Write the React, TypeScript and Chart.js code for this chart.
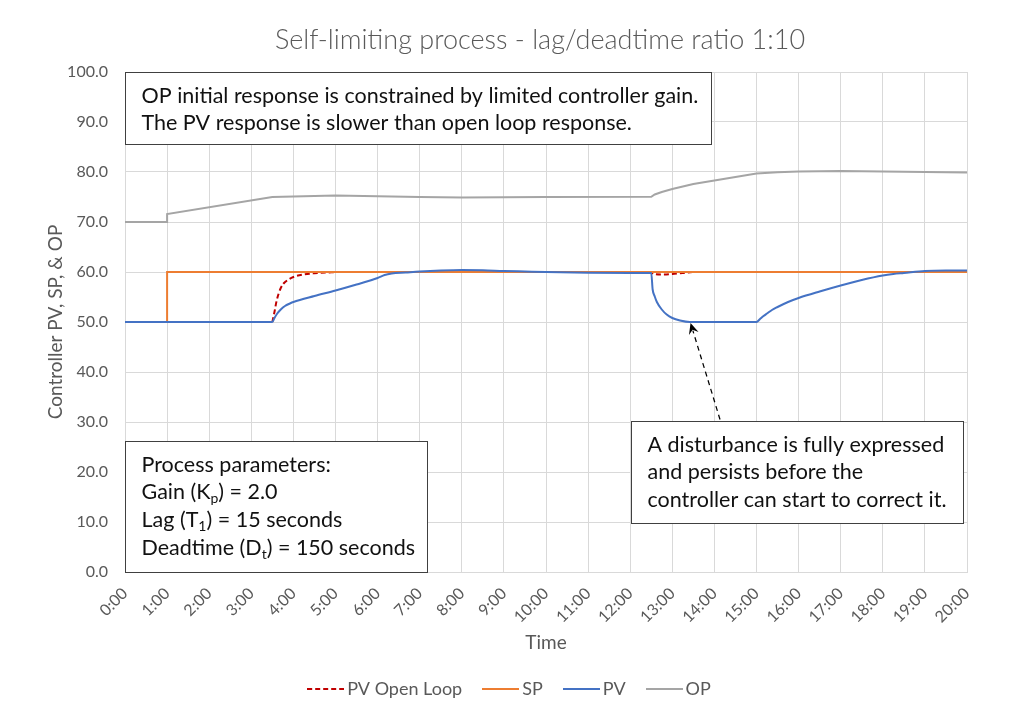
import { useEffect, useRef } from "react";
import Chart from "chart.js/auto";

const FONT = "Lato, 'Open Sans', sans-serif";
const TEXT_GREY = "#595959";
const GRID = "#d9d9d9";

// Times are seconds since start of the run (x axis shows m:ss)
const spTimes = [0, 60, 60, 1200];
const spValues = [50, 50, 60, 60];

const pvTimes = [
  0, 210, 213, 217, 222, 228, 235, 240, 270, 300, 330, 360, 370, 380, 400, 420,
  450, 480, 510, 540, 570, 600, 660, 720, 750, 752, 755, 758, 765, 772, 780, 791,
  805, 900, 905, 910, 915, 922, 930, 945, 960, 990, 1020, 1050, 1080, 1095, 1110, 1140, 1170, 1200,
];
const pvValues = [
  50, 50, 50.8, 51.7, 52.5, 53.2, 53.7, 54.0, 55.2, 56.3, 57.5, 58.8, 59.4, 59.7, 59.9, 60.1,
  60.3, 60.4, 60.35, 60.2, 60.1, 60.0, 59.85, 59.8, 59.8, 56.5, 55.1, 54.0, 52.5, 51.5, 50.8, 50.3,
  50.0, 50, 50.6, 51.2, 51.7, 52.4, 53.0, 54.0, 54.8, 56.1, 57.3, 58.4, 59.3, 59.6, 59.8, 60.2, 60.3, 60.3,
];

// open loop trace only departs from the PV trace after the deadtime
const openLoopTimes = [210, 213, 216, 219, 222, 226, 233, 240, 254, 270, 290, 310, 750, 753, 765, 780, 795, 810, 1200];
const openLoopValues = [50, 52.0, 54.2, 55.7, 56.8, 57.7, 58.5, 59.0, 59.5, 59.75, 59.9, 60, 60, 59.6, 59.5, 59.6, 59.8, 60, 60];

const opTimes = [0, 60, 60, 210, 240, 300, 360, 420, 480, 540, 600, 750, 755, 765, 780, 810, 840, 870, 900, 930, 960, 1020, 1080, 1140, 1200];
const opValues = [70, 70, 71.6, 75.0, 75.1, 75.3, 75.15, 75.0, 74.9, 74.95, 75.0, 75.05, 75.5, 76.0, 76.6, 77.6, 78.3, 79.0, 79.7, 79.95, 80.1, 80.2, 80.1, 80.0, 79.9];

const toPoints = (times: number[], values: number[]) => times.map((t, i) => ({ x: t, y: values[i] }));

type Run = { text: string; sub?: boolean };
type Note = { x0: number; x1: number; yTop: number; yBottom: number; lines: Run[][] };

const notes: Note[] = [
  {
    x0: 0, x1: 835, yTop: 100, yBottom: 85.6,
    lines: [
      [{ text: "OP initial response is constrained by limited controller gain." }],
      [{ text: "The PV response is slower than open loop response." }],
    ],
  },
  {
    x0: 0, x1: 431, yTop: 26.3, yBottom: 0,
    lines: [
      [{ text: "Process parameters:" }],
      [{ text: "Gain (K" }, { text: "p", sub: true }, { text: ") = 2.0" }],
      [{ text: "Lag (T" }, { text: "1", sub: true }, { text: ") = 15 seconds" }],
      [{ text: "Deadtime (D" }, { text: "t", sub: true }, { text: ") = 150 seconds" }],
    ],
  },
  {
    x0: 721, x1: 1195, yTop: 30.3, yBottom: 9.8,
    lines: [
      [{ text: "A disturbance is fully expressed" }],
      [{ text: "and persists before the" }],
      [{ text: "controller can start to correct it." }],
    ],
  },
];

const arrowFrom = { x: 848, y: 30.5 };
const arrowTo = { x: 806, y: 49.8 };

const fmtTime = (v: number) => `${Math.round(v / 60)}:00`;

// small line samples used as legend symbols
const makeSwatch = (color: string, dash: number[]) => {
  const c = document.createElement("canvas");
  c.width = 37;
  c.height = 4;
  const g = c.getContext("2d");
  if (g) {
    g.strokeStyle = color;
    g.lineWidth = 2;
    g.setLineDash(dash);
    g.beginPath();
    g.moveTo(0, 2);
    g.lineTo(37, 2);
    g.stroke();
  }
  return c;
};

const extrasPlugin = {
  id: "extras",
  beforeDraw(chart: Chart) {
    const { ctx } = chart;
    ctx.save();
    ctx.fillStyle = "#ffffff";
    ctx.fillRect(0, 0, chart.width, chart.height);
    ctx.fillStyle = TEXT_GREY;
    ctx.font = `300 27px ${FONT}`;
    ctx.textAlign = "center";
    ctx.textBaseline = "middle";
    ctx.fillText("Self-limiting process - lag/deadtime ratio 1:10", 540, 40);
    ctx.restore();
  },
  afterDatasetsDraw(chart: Chart) {
    const { ctx } = chart;
    const xs = chart.scales.x;
    const ys = chart.scales.y;
    ctx.save();

    // dashed arrow to the disturbance
    const fx = xs.getPixelForValue(arrowFrom.x);
    const fy = ys.getPixelForValue(arrowFrom.y);
    const tx = xs.getPixelForValue(arrowTo.x);
    const ty = ys.getPixelForValue(arrowTo.y);
    const ang = Math.atan2(ty - fy, tx - fx);
    ctx.strokeStyle = "#000";
    ctx.lineWidth = 1.25;
    ctx.setLineDash([5, 4]);
    ctx.beginPath();
    ctx.moveTo(fx, fy);
    ctx.lineTo(tx - Math.cos(ang) * 8, ty - Math.sin(ang) * 8);
    ctx.stroke();
    ctx.setLineDash([]);
    const len = 11;
    const half = 5;
    const bx = tx - Math.cos(ang) * len;
    const by = ty - Math.sin(ang) * len;
    const nx = tx - Math.cos(ang) * (len - 4);
    const ny = ty - Math.sin(ang) * (len - 4);
    ctx.fillStyle = "#000";
    ctx.beginPath();
    ctx.moveTo(tx, ty);
    ctx.lineTo(bx + Math.sin(ang) * half, by - Math.cos(ang) * half);
    ctx.lineTo(nx, ny);
    ctx.lineTo(bx - Math.sin(ang) * half, by + Math.cos(ang) * half);
    ctx.closePath();
    ctx.fill();

    // text boxes
    notes.forEach((note) => {
      const left = Math.round(xs.getPixelForValue(note.x0)) + 0.5;
      const right = Math.round(xs.getPixelForValue(note.x1)) + 0.5;
      const top = Math.round(ys.getPixelForValue(note.yTop)) + 0.5;
      const bottom = Math.round(ys.getPixelForValue(note.yBottom)) + 0.5;
      ctx.fillStyle = "#ffffff";
      ctx.fillRect(left, top, right - left, bottom - top);
      ctx.strokeStyle = "#404040";
      ctx.lineWidth = 1;
      ctx.strokeRect(left, top, right - left, bottom - top);
      ctx.fillStyle = "#111";
      ctx.textAlign = "left";
      ctx.textBaseline = "alphabetic";
      note.lines.forEach((line, i) => {
        let x = left + 16;
        const y = top + 30 + i * 27.7;
        line.forEach((run) => {
          ctx.font = run.sub ? `14px ${FONT}` : `21.5px ${FONT}`;
          ctx.fillText(run.text, x, run.sub ? y + 4 : y);
          x += ctx.measureText(run.text).width;
        });
      });
    });
    ctx.restore();
  },
};

const App = () => {
  const canvasRef = useRef<HTMLCanvasElement>(null);
  const chartRef = useRef<Chart>();

  useEffect(() => {
    if (!canvasRef.current) return;
    const ctx = canvasRef.current.getContext("2d");
    if (!ctx) return;
    if (chartRef.current) chartRef.current.destroy();

    chartRef.current = new Chart(ctx, {
      type: "line",
      data: {
        datasets: [
          {
            label: "PV Open Loop",
            data: toPoints(openLoopTimes, openLoopValues),
            borderColor: "#c00000",
            backgroundColor: "#c00000",
            borderWidth: 2,
            borderDash: [5, 3],
            cubicInterpolationMode: "monotone",
            pointRadius: 0,
            pointStyle: makeSwatch("#c00000", [5, 3]),
            order: 4,
          },
          {
            label: "SP",
            data: toPoints(spTimes, spValues),
            borderColor: "#ed7d31",
            backgroundColor: "#ed7d31",
            borderWidth: 2,
            pointRadius: 0,
            pointStyle: makeSwatch("#ed7d31", []),
            order: 3,
          },
          {
            label: "PV",
            data: toPoints(pvTimes, pvValues),
            borderColor: "#4472c4",
            backgroundColor: "#4472c4",
            borderWidth: 2,
            cubicInterpolationMode: "monotone",
            pointRadius: 0,
            pointStyle: makeSwatch("#4472c4", []),
            order: 2,
          },
          {
            label: "OP",
            data: toPoints(opTimes, opValues),
            borderColor: "#a5a5a5",
            backgroundColor: "#a5a5a5",
            borderWidth: 2,
            pointRadius: 0,
            pointStyle: makeSwatch("#a5a5a5", []),
            order: 1,
          },
        ],
      },
      options: {
        responsive: false,
        animation: false,
        parsing: false,
        layout: { padding: { top: 72, left: 0, right: 0, bottom: 9 } },
        plugins: {
          title: { display: false },
          tooltip: { enabled: false },
          legend: {
            position: "bottom",
            labels: {
              color: TEXT_GREY,
              font: { family: FONT, size: 18 },
              usePointStyle: true,
              pointStyleWidth: 25,
              padding: 26,
              sort: (a, b) => (a.datasetIndex ?? 0) - (b.datasetIndex ?? 0),
            },
          },
        },
        scales: {
          x: {
            type: "linear",
            min: 0,
            max: 1200,
            afterFit: (scale) => {
              scale.height = 82;
            },
            ticks: {
              stepSize: 60,
              autoSkip: false,
              maxRotation: 45,
              minRotation: 45,
              padding: 12,
              color: TEXT_GREY,
              font: { family: FONT, size: 16 },
              callback: (v) => fmtTime(Number(v)),
            },
            grid: { color: GRID, drawTicks: false },
            border: { color: GRID },
            title: {
              display: true,
              text: "Time",
              color: TEXT_GREY,
              font: { family: FONT, size: 19 },
              padding: { top: 0, bottom: 0 },
            },
          },
          y: {
            min: 0,
            max: 100,
            afterFit: (scale) => {
              scale.width = 125;
            },
            ticks: {
              stepSize: 10,
              padding: 17,
              color: TEXT_GREY,
              font: { family: FONT, size: 16 },
              callback: (v) => Number(v).toFixed(1),
            },
            grid: { color: GRID, drawTicks: false },
            border: { color: GRID },
            title: {
              display: true,
              text: "Controller PV, SP, & OP",
              color: TEXT_GREY,
              font: { family: FONT, size: 19 },
              padding: { top: 44, bottom: 0 },
            },
          },
          yRight: {
            position: "right",
            afterFit: (scale) => {
              scale.width = 57;
            },
            ticks: { display: false },
            grid: { display: false },
            border: { display: false },
          },
        },
      },
      plugins: [extrasPlugin],
    });

    return () => {
      if (chartRef.current) {
        chartRef.current.destroy();
        chartRef.current = undefined;
      }
    };
  }, []);

  return (
    <div style={{ position: "absolute", left: 0, top: 0, width: 1024, height: 717, background: "#fff" }}>
      <canvas ref={canvasRef} width={1024} height={717}></canvas>
    </div>
  );
};

export default App;
